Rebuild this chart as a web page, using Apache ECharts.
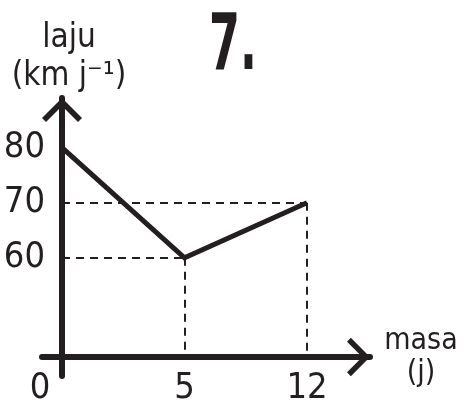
<!DOCTYPE html>
<html lang="ms">
<head>
    <meta charset="UTF-8">
    <script src="https://cdn.jsdelivr.net/npm/echarts@6/dist/echarts.min.js"></script>
    <title>7.</title>
</head>
<body style="margin:0">
<div id="main" style="width: 466px;height:402px;"></div>

<script type="text/javascript">
    // data
    var masa = ['0', '5', '12'];       // x categories (j)
    var laju = [80, 60, 70];           // km j^-1
    var yTicks = [60, 70, 80];
    var yMin = 42, yMax = 89;

    var ink = '#231f20';
    var hand = '"DejaVu Sans Condensed", "DejaVu Sans", sans-serif';
    // open chevron for the arrow heads, drawn pointing up
    var chevron = 'path://M20,0 L40,20 L36,24 L20,8 L4,24 L0,20 Z';

    // dashed guides from each point to both axes
    var guides = [];
    for (var i = 1; i < masa.length; i++) {
        guides.push([{coord: [masa[0], laju[i]]}, {coord: [masa[i], laju[i]]}]);
        guides.push([{coord: [masa[i], laju[i]]}, {coord: [masa[i], yMin]}]);
    }

    var myChart = echarts.init(document.getElementById('main'));

    var option = {
        animation: false,
        // the big question number, squeezed sideways like the sketch
        graphic: [{
            type: 'text',
            x: 209,
            y: 10,
            scaleX: 0.57,
            style: {
                text: '7.',
                fill: ink,
                font: 'bold 78px "DejaVu Sans", sans-serif',
                textVerticalAlign: 'top'
            }
        }],
        grid: [
            // data grid
            {left: 62, right: 159, top: 98, bottom: 45, outerBoundsMode: 'none'},
            // grid that only carries the drawn axes with arrows
            {left: 42, right: 96, top: 98, bottom: 26, outerBoundsMode: 'none'}
        ],
        xAxis: [
            {
                gridIndex: 0,
                type: 'category',
                data: masa,
                boundaryGap: false,
                axisLine: {show: false},
                axisTick: {show: false},
                axisLabel: {
                    margin: 14,
                    color: ink,
                    fontSize: 36,
                    fontFamily: hand,
                    formatter: function (v, idx) {
                        return idx === 0 ? '{z|' + v + '}' : v;
                    },
                    rich: {
                        z: {color: ink, fontSize: 36, fontFamily: hand, padding: [0, 44, 0, 0]}
                    }
                }
            },
            {
                gridIndex: 1,
                type: 'value',
                min: 0, max: 1,
                offset: -19,
                axisLine: {
                    lineStyle: {color: ink, width: 6},
                    symbol: ['none', chevron],
                    symbolSize: [42, 23],
                    symbolOffset: [0, -11.5]
                },
                axisTick: {show: false},
                axisLabel: {show: false},
                splitLine: {show: false},
                name: 'masa\n(j)',
                nameLocation: 'end',
                nameGap: 51,
                nameTextStyle: {
                    color: ink, fontSize: 30, fontFamily: hand,
                    align: 'center', verticalAlign: 'middle', lineHeight: 32
                }
            }
        ],
        yAxis: [
            {
                gridIndex: 0,
                type: 'value',
                min: yMin,
                max: yMax,
                axisLine: {show: false},
                axisTick: {show: false},
                splitLine: {show: false},
                axisLabel: {
                    customValues: yTicks,
                    margin: 17,
                    color: ink,
                    fontSize: 36,
                    fontFamily: hand,
                    padding: [5, 0, 0, 0]
                }
            },
            {
                gridIndex: 1,
                type: 'value',
                min: 0, max: 1,
                offset: -20,
                axisLine: {
                    lineStyle: {color: ink, width: 6},
                    symbol: ['none', chevron],
                    symbolSize: [40, 24],
                    symbolOffset: [0, -12]
                },
                axisTick: {show: false},
                axisLabel: {show: false},
                splitLine: {show: false},
                name: 'laju\n(km j⁻¹)',
                nameLocation: 'end',
                nameGap: 3,
                nameTextStyle: {
                    color: ink, fontSize: 33, fontFamily: hand,
                    align: 'center', verticalAlign: 'bottom', lineHeight: 38,
                    padding: [0, 0, 0, 14]
                }
            }
        ],
        series: [
            {
                type: 'line',
                xAxisIndex: 0,
                yAxisIndex: 0,
                data: laju,
                symbol: 'none',
                lineStyle: {color: ink, width: 5, join: 'miter'},
                markLine: {
                    silent: true,
                    symbol: 'none',
                    label: {show: false},
                    lineStyle: {color: ink, width: 2, type: [8, 6]},
                    data: guides
                }
            }
        ]
    };
    myChart.setOption(option);
</script>
</body>
</html>
